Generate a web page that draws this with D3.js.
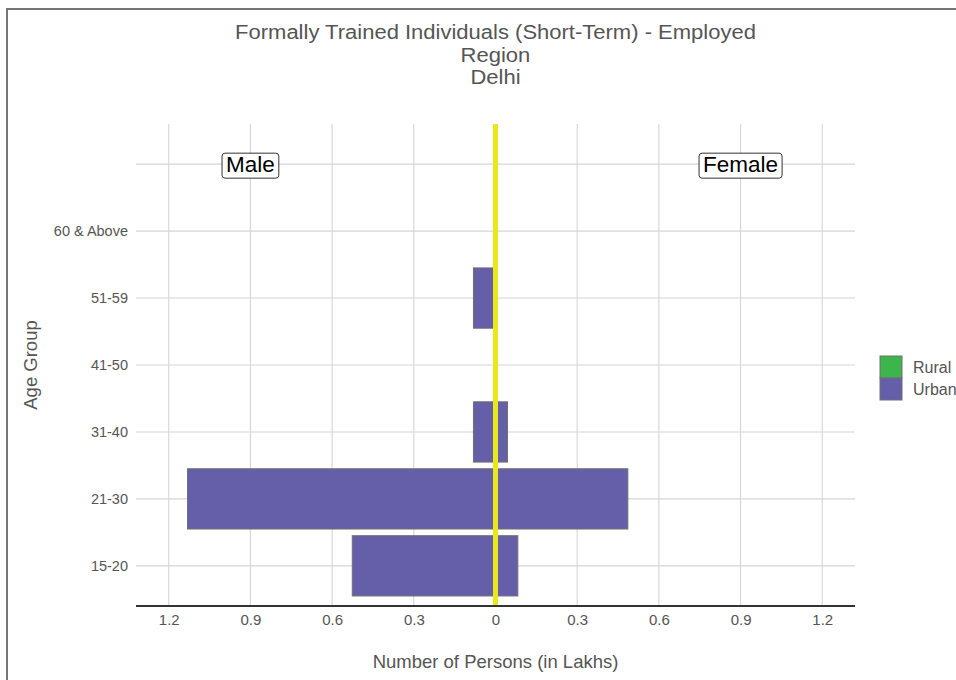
<!DOCTYPE html>
<html>
<head>
<meta charset="utf-8">
<script src="https://cdn.jsdelivr.net/npm/d3@7"></script>
<style>
  html, body { margin: 0; padding: 0; background: #fff; }
  svg { display: block; font-family: "Liberation Sans", Arial, sans-serif; }
</style>
</head>
<body>
<svg id="chart" width="956" height="680"></svg>
<script>
// ---- data ----
const ageGroups = ["15-20", "21-30", "31-40", "41-50", "51-59", "60 & Above", ""];
const maleUrban   = [0.526, 1.131, 0.081, 0, 0.081, 0, 0];
const femaleUrban = [0.082, 0.486, 0.044, 0, 0, 0, 0];
const maleRural   = [0, 0, 0, 0, 0, 0, 0];
const femaleRural = [0, 0, 0, 0, 0, 0, 0];
const xTicks = [-1.2, -0.9, -0.6, -0.3, 0, 0.3, 0.6, 0.9, 1.2];
const legendKeys = ["Rural", "Urban"];
const legendColors = ["#3cb54a", "#655ea8"];
const titleLines = ["Formally Trained Individuals (Short-Term) - Employed", "Region", "Delhi"];

const svg = d3.select("#chart");
const pLeft = 136, pRight = 855, pTop = 124, pBottom = 606;
const FONT = "Liberation Sans, Arial, sans-serif";

const x = d3.scaleLinear().domain([-1.2, 1.2]).range([495.5 - 1.2 * 272.3, 495.5 + 1.2 * 272.3]);
const y = d3.scalePoint().domain(ageGroups).range([pBottom, pTop]).padding(0.6);
const step = y.step();

// frame
svg.append("line").attr("x1", 6).attr("x2", 956).attr("y1", 9).attr("y2", 9)
  .attr("stroke", "#767676").attr("stroke-width", 2);
svg.append("line").attr("x1", 7).attr("x2", 7).attr("y1", 8).attr("y2", 680)
  .attr("stroke", "#767676").attr("stroke-width", 2);

// gridlines
const grid = svg.append("g");
grid.selectAll("line.v").data(xTicks).join("line").attr("class", "v")
  .attr("x1", d => x(d)).attr("x2", d => x(d)).attr("y1", pTop).attr("y2", pBottom)
  .attr("stroke", "#d6d6d6").attr("stroke-width", 1.1);
grid.selectAll("line.h").data(ageGroups).join("line").attr("class", "h")
  .attr("x1", pLeft).attr("x2", pRight).attr("y1", d => y(d)).attr("y2", d => y(d))
  .attr("stroke", "#d6d6d6").attr("stroke-width", 1.1);

// bars
const rows = [];
ageGroups.forEach((g, i) => {
  rows.push({ g, x0: -maleUrban[i], x1: femaleUrban[i], key: "Urban" });
  rows.push({ g, x0: -maleRural[i], x1: femaleRural[i], key: "Rural" });
});
const color = d3.scaleOrdinal().domain(legendKeys).range(legendColors);
svg.append("g").selectAll("rect").data(rows.filter(r => r.x1 - r.x0 > 0)).join("rect")
  .attr("x", d => x(d.x0)).attr("width", d => x(d.x1) - x(d.x0))
  .attr("y", d => y(d.g) - step * 0.45).attr("height", step * 0.9)
  .attr("fill", d => color(d.key)).attr("stroke", "#707070").attr("stroke-width", 1);

// zero line
svg.append("line").attr("x1", x(0)).attr("x2", x(0)).attr("y1", pTop).attr("y2", pBottom)
  .attr("stroke", "#e8e81a").attr("stroke-width", 5);

// x axis
svg.append("line").attr("x1", pLeft).attr("x2", pRight).attr("y1", pBottom).attr("y2", pBottom)
  .attr("stroke", "#333").attr("stroke-width", 2);
const xAxis = svg.append("g").attr("transform", `translate(0,${pBottom})`)
  .call(d3.axisBottom(x).tickValues(xTicks).tickSize(0).tickPadding(8)
    .tickFormat(d => d3.format("")(Math.abs(Math.round(d * 10) / 10))));
xAxis.attr("font-family", FONT);
xAxis.select(".domain").remove();
xAxis.selectAll("text").attr("font-size", 15).attr("fill", "#555");

// y axis
const yAxis = svg.append("g").attr("transform", `translate(${pLeft},0)`)
  .call(d3.axisLeft(y).tickSize(0).tickPadding(8));
yAxis.attr("font-family", FONT);
yAxis.select(".domain").remove();
yAxis.selectAll("text").attr("font-size", 14.5).attr("fill", "#555");

// Male / Female labels
const labels = [{ t: "Male", v: -0.9 }, { t: "Female", v: 0.9 }];
const topCat = ageGroups[ageGroups.length - 1];
labels.forEach(l => {
  const g = svg.append("g");
  const txt = g.append("text").attr("x", x(l.v)).attr("y", y(topCat) + 8)
    .attr("text-anchor", "middle").attr("font-size", 22.5).attr("fill", "#000").text(l.t);
  const bb = txt.node().getBBox();
  g.insert("rect", "text").attr("x", bb.x - 4).attr("y", bb.y + 1)
    .attr("width", bb.width + 8).attr("height", bb.height)
    .attr("rx", 3).attr("fill", "#fff").attr("stroke", "#333").attr("stroke-width", 1);
});

// title
const tl = svg.append("g").selectAll("text").data(titleLines).join("text")
  .attr("x", 495.5).attr("y", (d, i) => 39 + i * 22.5)
  .attr("text-anchor", "middle").attr("font-size", 20).attr("fill", "#555").text(d => d);
tl.each(function () {
  const w = this.getComputedTextLength();
  d3.select(this).attr("textLength", w * 1.1).attr("lengthAdjust", "spacingAndGlyphs");
});

// axis titles
svg.append("text").attr("x", 495.5).attr("y", 668).attr("text-anchor", "middle")
  .attr("font-size", 18.5).attr("fill", "#555").text("Number of Persons (in Lakhs)");
svg.append("text").attr("transform", `translate(37,${(pTop + pBottom) / 2}) rotate(-90)`)
  .attr("text-anchor", "middle").attr("font-size", 18.5).attr("fill", "#555").text("Age Group");

// legend
const lg = svg.append("g").attr("transform", "translate(880,356)");
legendKeys.forEach((k, i) => {
  lg.append("rect").attr("x", 0).attr("y", i * 22).attr("width", 22).attr("height", 22)
    .attr("fill", legendColors[i]).attr("stroke", "#707070").attr("stroke-width", 1);
  lg.append("text").attr("x", 33).attr("y", i * 22 + 16.5).attr("font-size", 16)
    .attr("fill", "#555").text(k);
});
</script>
</body>
</html>
